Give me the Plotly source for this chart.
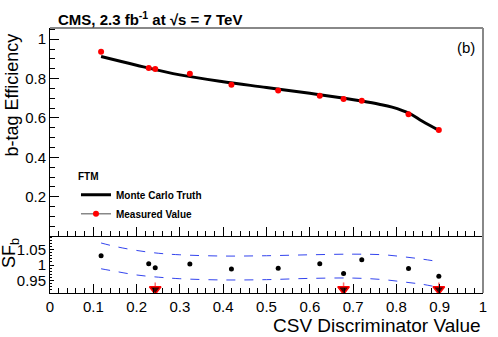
import plotly.graph_objects as go

# ---- data ----
meas_x = [0.118, 0.228, 0.243, 0.323, 0.419, 0.527, 0.623, 0.678, 0.720, 0.828, 0.898]
meas_eff = [0.937, 0.854, 0.849, 0.825, 0.769, 0.739, 0.713, 0.697, 0.688, 0.619, 0.539]

mc_x = [0.118, 0.2, 0.3, 0.4, 0.5, 0.6, 0.68, 0.72, 0.76, 0.79, 0.83, 0.86, 0.898]
mc_eff = [0.912, 0.868, 0.819, 0.784, 0.755, 0.725, 0.700, 0.686, 0.670, 0.655, 0.623, 0.583, 0.537]

sf_vals = [1.030, 1.004, 0.991, 1.003, 0.987, 0.990, 1.004, 0.973, 1.017, 0.989, 0.964]

band_x = [0.118, 0.15, 0.2, 0.25, 0.3, 0.4, 0.5, 0.6, 0.7, 0.77, 0.82, 0.86, 0.898]
band_up = [1.071, 1.060, 1.047, 1.038, 1.033, 1.029, 1.030, 1.033, 1.035, 1.033, 1.026, 1.019, 1.011]
band_lo = [0.988, 0.980, 0.968, 0.961, 0.956, 0.952, 0.953, 0.957, 0.958, 0.953, 0.945, 0.938, 0.928]

arrow_x = [0.243, 0.678, 0.898]
arrow_y = [0.922, 0.922, 0.922]

x_ticks = [0, 0.1, 0.2, 0.3, 0.4, 0.5, 0.6, 0.7, 0.8, 0.9, 1]

FONT = "Liberation Sans, Arial, Helvetica, sans-serif"
LOW_FRAC = 57 / 265

fig = go.Figure()

fig.add_trace(go.Scatter(x=mc_x, y=mc_eff, mode="lines", line=dict(color="black", width=3, shape="spline"),
                         name="Monte Carlo Truth", xaxis="x", yaxis="y"))
fig.add_trace(go.Scatter(x=meas_x, y=meas_eff, mode="markers", marker=dict(color="red", size=6),
                         showlegend=False, xaxis="x", yaxis="y"))
fig.add_trace(go.Scatter(x=[None], y=[None], mode="lines+markers", line=dict(color="#888888", width=1.5),
                         marker=dict(color="red", size=6), name="Measured Value", xaxis="x", yaxis="y"))

fig.add_trace(go.Scatter(x=band_x, y=band_up, mode="lines", line=dict(color="#3344ee", width=1, dash="dash", shape="spline"),
                         showlegend=False, xaxis="x2", yaxis="y2"))
fig.add_trace(go.Scatter(x=band_x, y=band_lo, mode="lines", line=dict(color="#3344ee", width=1, dash="dash", shape="spline"),
                         showlegend=False, xaxis="x2", yaxis="y2"))
fig.add_trace(go.Scatter(x=meas_x, y=sf_vals, mode="markers", marker=dict(color="black", size=5),
                         showlegend=False, xaxis="x2", yaxis="y2"))
fig.add_trace(go.Scatter(x=arrow_x, y=arrow_y, mode="markers",
                         marker=dict(symbol="triangle-down", color="#400000", size=10, line=dict(color="red", width=1.5)),
                         error_y=dict(type="data", symmetric=False, array=[0.022] * 3, arrayminus=[0] * 3,
                                      color="#ff7070", thickness=1.5, width=0),
                         showlegend=False, xaxis="x2", yaxis="y2"))

axis_common = dict(showline=True, linecolor="black", linewidth=1, ticks="inside", tickcolor="black",
                   showgrid=False, zeroline=False, tickfont=dict(family=FONT, size=15, color="black"))

fig.update_layout(
    width=498, height=337,
    margin=dict(l=50, r=15, t=28, b=44),
    paper_bgcolor="white", plot_bgcolor="white",
    xaxis=dict(axis_common, domain=[0, 1], range=[0, 1], anchor="y", tickvals=x_ticks, showticklabels=False,
               ticklen=9, minor=dict(dtick=0.02, tick0=0, ticks="inside", ticklen=5, tickcolor="black")),
    yaxis=dict(axis_common, domain=[LOW_FRAC, 1], range=[0.0005, 1.057], anchor="x", dtick=0.2, tick0=0,
               ticklen=9, minor=dict(dtick=0.05, tick0=0, ticks="inside", ticklen=5, tickcolor="black")),
    xaxis2=dict(axis_common, domain=[0, 1], range=[0, 1], anchor="y2", tickvals=x_ticks,
                ticklen=9, minor=dict(dtick=0.02, tick0=0, ticks="inside", ticklen=5, tickcolor="black")),
    yaxis2=dict(axis_common, domain=[0, LOW_FRAC], range=[0.91, 1.0935], anchor="x2", dtick=0.05, tick0=0.95,
                ticklen=4, minor=dict(dtick=0.01, tick0=0.95, ticks="inside", ticklen=2, tickcolor="black")),
    legend=dict(x=0.06, y=0.475, xanchor="left", yanchor="top", bgcolor="rgba(0,0,0,0)",
                font=dict(family=FONT, size=10, color="black", weight="bold"),
                title=dict(text="<b>FTM</b>", font=dict(family=FONT, size=10, color="black")),
                tracegroupgap=0, itemwidth=30),
    showlegend=True,
)

# frame: gray top and right edges
fig.add_shape(type="line", xref="paper", yref="paper", x0=0, x1=1, y0=1, y1=1, line=dict(color="#888888", width=2))
fig.add_shape(type="line", xref="paper", yref="paper", x0=1, x1=1, y0=0, y1=1, line=dict(color="#888888", width=2))

fig.add_annotation(text="<b>CMS, 2.3 fb<sup>-1</sup> at √s = 7 TeV</b>", xref="paper", yref="paper",
                   x=0.231, y=1.034, xanchor="center", yanchor="middle", showarrow=False,
                   font=dict(family=FONT, size=15, color="black"))
fig.add_annotation(text="(b)", xref="paper", yref="paper", x=0.961, y=0.928, xanchor="center", yanchor="middle",
                   showarrow=False, font=dict(family=FONT, size=15, color="black"))
fig.add_annotation(text="b-tag Efficiency", xref="paper", yref="paper", x=-0.088, y=0.749, textangle=-90,
                   xanchor="center", yanchor="middle", showarrow=False, font=dict(family=FONT, size=18, color="black"))
fig.add_annotation(text="SF<sub>b</sub>", xref="paper", yref="paper", x=-0.09, y=0.151, textangle=-90,
                   xanchor="center", yanchor="middle", showarrow=False, font=dict(family=FONT, size=18, color="black"))
fig.add_annotation(text="CSV Discriminator Value", xref="paper", yref="paper", x=1, y=-0.1208,
                   xanchor="right", yanchor="middle", showarrow=False, font=dict(family=FONT, size=19, color="black"))

fig.write_html("out.html", post_script="document.body.style.margin='0px';",
               config={"displayModeBar": False})
